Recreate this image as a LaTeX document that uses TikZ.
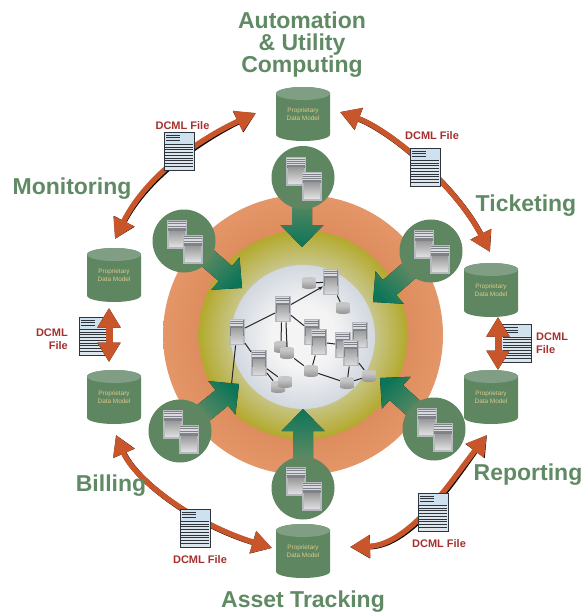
\documentclass[tikz,border=0pt]{standalone}
\usepackage{fontspec}
\setmainfont{Liberation Sans}
\usetikzlibrary{arrows.meta,calc}
\definecolor{gtitle}{HTML}{5F8A64}
\definecolor{gbody}{HTML}{5E8660}
\definecolor{gtop}{HTML}{7F9E84}
\definecolor{teal}{HTML}{0C7558}
\definecolor{redarr}{HTML}{C9562B}
\definecolor{redtxt}{HTML}{A5302E}
\definecolor{dbtxt}{HTML}{DCCB8C}
\definecolor{oa}{HTML}{DC8C5C}
\definecolor{ob}{HTML}{E59668}
\definecolor{ya}{HTML}{C8C68A}
\definecolor{yb}{HTML}{B3A92C}
\definecolor{wa}{HTML}{F4F4F4}
\definecolor{wb}{HTML}{D2D8E0}
\definecolor{docfill}{HTML}{DDE5EC}
\definecolor{dochead}{HTML}{CFE0EE}
\definecolor{docline}{HTML}{2E343C}
\definecolor{srvframe}{HTML}{B6B9C0}
\definecolor{srvhead}{HTML}{7F8289}
\definecolor{srvstripe}{HTML}{DADBDE}
\pgfdeclareradialshading{orangering}{\pgfpoint{0bp}{0bp}}{color(0bp)=(oa);color(18bp)=(oa);color(25bp)=(ob);color(50bp)=(ob)}
\pgfdeclareradialshading{olivering}{\pgfpoint{0bp}{0bp}}{color(0bp)=(ya);color(17bp)=(ya);color(25bp)=(yb);color(50bp)=(yb)}
\pgfdeclareradialshading{whitecore}{\pgfpoint{0bp}{0bp}}{color(0bp)=(wa);color(11bp)=(wa);color(25bp)=(wb);color(50bp)=(wb)}
\tikzset{
 title/.style={font=\bfseries\fontsize{23}{22}\selectfont,text=gtitle,align=center,inner sep=0pt},
 dcml/.style={font=\bfseries\fontsize{11}{12.8}\selectfont,text=redtxt,inner sep=0pt},
 halo/.style={circle,fill=gbody,minimum size=63pt,inner sep=0pt},
 db/.style={minimum width=54pt,minimum height=54pt,inner sep=0pt,align=center,
   font=\fontsize{6.4}{7.6}\selectfont,text=dbtxt,
   path picture={
     \path[fill=gbody] ($(path picture bounding box.north west)+(0,-6.5pt)$) -- ($(path picture bounding box.south west)+(0,6.5pt)$)
        arc[start angle=180,end angle=360,x radius=27pt,y radius=6.5pt]
        -- ($(path picture bounding box.north east)+(0,-6.5pt)$) arc[start angle=0,end angle=180,x radius=27pt,y radius=6.5pt] -- cycle;
     \path[fill=gtop] ($(path picture bounding box.north)+(0,-6.5pt)$) ellipse[x radius=27pt,y radius=6.5pt];
   }},
 minidb/.style={minimum width=14pt,minimum height=12pt,inner sep=0pt,
   path picture={
     \path[top color=white!70!gray,bottom color=gray!85] ($(path picture bounding box.north west)+(0,-2pt)$) -- ($(path picture bounding box.south west)+(0,2pt)$)
        arc[start angle=180,end angle=360,x radius=7pt,y radius=2pt]
        -- ($(path picture bounding box.north east)+(0,-2pt)$) arc[start angle=0,end angle=180,x radius=7pt,y radius=2pt] -- cycle;
     \path[fill=gray!45] ($(path picture bounding box.north)+(0,-2pt)$) ellipse[x radius=7pt,y radius=2pt];
   }},
 server/.style={minimum width=15.5pt,minimum height=26.5pt,inner sep=0pt,
   fill=srvframe,
   path picture={
     \coordinate (nw) at (path picture bounding box.north west);
     \coordinate (se) at (path picture bounding box.south east);
     \path[fill=srvhead] ($(nw)+(1.2pt,-1.2pt)$) rectangle ($(se)+(-1.2pt,9pt)$);
     \path[top color=gray!75,bottom color=gray!30] ($(nw)+(1.8pt,-9.5pt)$) rectangle ($(se)+(-1.8pt,2pt)$);
     \foreach \k in {2,3.6,5.2,6.8}{\draw[srvstripe,line width=.7pt] ($(nw)+(1.2pt,-\k pt)$) -- ($(nw)+(14.2pt,-\k pt)$);}
   }},
 bigserver/.style={minimum width=20pt,minimum height=29pt,inner sep=0pt,
   fill=srvframe,
   path picture={
     \coordinate (nw) at (path picture bounding box.north west);
     \coordinate (se) at (path picture bounding box.south east);
     \path[fill=srvhead] ($(nw)+(1.2pt,-1.2pt)$) rectangle ($(se)+(-1.2pt,18pt)$);
     \path[top color=gray!80,bottom color=gray!25] ($(nw)+(2.2pt,-11pt)$) rectangle ($(se)+(-2.2pt,2.5pt)$);
     \foreach \k in {2.2,4,5.8,7.6}{\draw[srvstripe,line width=.8pt] ($(nw)+(1.2pt,-\k pt)$) -- ($(nw)+(18.8pt,-\k pt)$);}
   }},
 doc/.style={minimum width=30pt,minimum height=38pt,inner sep=0pt,draw=docline,line width=.9pt,fill=docfill,
   path picture={
     \coordinate (nw) at (path picture bounding box.north west);
     \path[fill=dochead] (nw) rectangle ($(nw)+(30pt,-11.5pt)$);
     \foreach \k in {3,5.5,8}{\draw[docline,line width=.75pt] ($(nw)+(2pt,-\k pt)$) -- ($(nw)+(16pt,-\k pt)$);}
     \foreach \k in {12.5,15.2,17.9,20.6,23.3,26,28.7,31.4,34.1}{\draw[docline,line width=.85pt] ($(nw)+(1pt,-\k pt)$) -- ($(nw)+(29pt,-\k pt)$);}
   }},
 wire/.style={line width=1pt,black!85},
 flow/.style={line width=5.4pt,redarr,{Triangle[length=20pt,width=22pt]}-{Triangle[length=20pt,width=22pt]}},
 flowsh/.style={line width=5.4pt,black,{Triangle[length=20pt,width=22pt]}-{Triangle[length=20pt,width=22pt]},shift={(1.3,1.3)}},
 vflow/.style={line width=7pt,redarr,{Triangle[length=19.5pt,width=22pt]}-{Triangle[length=19.5pt,width=22pt]}},
 vflowsh/.style={line width=7pt,black,{Triangle[length=19.5pt,width=22pt]}-{Triangle[length=19.5pt,width=22pt]},shift={(1,1)}},
 push/.style={top color=gtitle,bottom color=teal},
 pushsh/.style={fill=black,shift={(1.1,1.1)}},
}
% #1 style, #2 tip coordinate, #3 direction from tip to tail (image degrees)
\newcommand{\pusharrow}[3]{%
  \path[#1] (#2) -- ($(#2)+(#3:22)+(#3+90:21.5)$) -- ($(#2)+(#3:22)+(#3+90:10)$)
    -- ($(#2)+(#3:50)+(#3+90:10)$) -- ($(#2)+(#3:50)+(#3-90:10)$)
    -- ($(#2)+(#3:22)+(#3-90:10)$) -- ($(#2)+(#3:22)+(#3-90:21.5)$) -- cycle;}
\begin{document}
\begin{tikzpicture}[x=1pt,y=-1pt]
\useasboundingbox (0,0) rectangle (584,613);
% rings
\node[circle,minimum size=280pt,inner sep=0pt,shading=orangering] (ring1) at (303,335) {};
\node[circle,minimum size=209pt,inner sep=0pt,shading=olivering] (ring2) at (303,335) {};
\node[circle,minimum size=144pt,inner sep=0pt,shading=whitecore] (core) at (303,337) {};
% central network
\node[minidb] (d1) at (309,283) {};
\node[server] (s1) at (331,282) {};
\node[minidb] (d2) at (343,308) {};
\node[server] (s3) at (237,332) {};
\node[server] (s2) at (283,309) {};
\node[server] (s4) at (259,363) {};
\node[minidb] (d3) at (281,347) {};
\node[minidb] (d4) at (287,353) {};
\node[server] (s5) at (312,332) {};
\node[server] (s6) at (319,342) {};
\node[server] (s8) at (360,335) {};
\node[server] (s7) at (343,345) {};
\node[server] (s9) at (351,353) {};
\node[minidb] (d5) at (311,371) {};
\node[minidb] (d6) at (347,383) {};
\node[minidb] (d7) at (369,376) {};
\node[minidb] (d9) at (278,387) {};
\node[minidb] (d8) at (285,382) {};
\node[minidb] (d10) at (231,389) {};
\draw[wire,-{Stealth[length=5pt]}] (s2) -- (s1);
\draw[wire] (d1) -- (s1);
\draw[wire] (s1) -- (d2);
\draw[wire] (s2) -- (s3);
\draw[wire] (s2.south) ++(-1.5pt,0) -- (d3.north);
\draw[wire] (s2.south) ++(3pt,0) -- (d4.north);
\draw[wire] (s2) -- (s5);
\draw[wire] (s3) -- (s4);
\draw[wire] (s3) -- (d10);
\draw[wire] (s4) -- (d8);
\draw[wire] (s4) -- (d9);
\draw[wire] (d4) -- (d5);
\draw[wire] (s6) -- (d5);
\draw[wire] (s6) -- (s7);
\draw[wire] (d5) -- (d6);
\draw[wire] (s9) -- (d6);
\draw[wire] (s9) -- (d7);
\draw[wire] (d6) -- (d7);
% green push arrows
\coordinate (p1) at (302,247);
\coordinate (p2) at (242,288);
\coordinate (p3) at (373,302);
\coordinate (p4) at (239,384);
\coordinate (p5) at (380,378);
\coordinate (p6) at (303,409);
\pusharrow{pushsh}{p1}{-90}
\pusharrow{pushsh}{p2}{221}
\pusharrow{pushsh}{p3}{-41}
\pusharrow{pushsh}{p4}{141}
\pusharrow{pushsh}{p5}{42}
\pusharrow{pushsh}{p6}{90}
\pusharrow{push}{p1}{-90}
\pusharrow{push,shading angle=45}{p2}{221}
\pusharrow{push,shading angle=-45}{p3}{-41}
\pusharrow{push,shading angle=135}{p4}{141}
\pusharrow{push,shading angle=-135}{p5}{42}
\pusharrow{push,shading angle=180}{p6}{90}
% halos with servers
\node[halo] (h1) at (303,177.5) {};
\node[halo] (h2) at (184,241) {};
\node[halo] (h3) at (431,251) {};
\node[halo] (h4) at (180,431) {};
\node[halo] (h5) at (434,429) {};
\node[halo] (h6) at (303,488) {};
\foreach \n in {h1,h2,h3,h4,h5,h6}{
  \node[bigserver] (\n a) at ($(\n)+(-7,-6.5)$) {};
  \node[bigserver] (\n b) at ($(\n)+(9,8.5)$) {};
}
% databases
\node[db] (dbtop) at (303,114) {Proprietary\\Data Model};
\node[db] (dbml) at (114,275) {Proprietary\\Data Model};
\node[db] (dbbl) at (114,397) {Proprietary\\Data Model};
\node[db] (dbmr) at (491,290) {Proprietary\\Data Model};
\node[db] (dbbr) at (491,397) {Proprietary\\Data Model};
\node[db] (dbbot) at (303,551) {Proprietary\\Data Model};
% named curve ends
\coordinate (e1) at (115,239);
\coordinate (e2) at (256,113);
\coordinate (e3) at (340,112);
\coordinate (e4) at (490,252);
\coordinate (e5) at (350,547);
\coordinate (e6) at (487,435);
\coordinate (e7) at (116,435);
\coordinate (e8) at (272,548);
\coordinate (e9) at (109,308);
\coordinate (e10) at (109,362);
\coordinate (e11) at (498,317);
\coordinate (e12) at (498,370);
% doc icons under the vertical arrows
\node[doc] (docl) at (94,336) {};
\node[doc] (docr) at (516.5,343.5) {};
% red arrows
\foreach \s in {flowsh,flow}{
 \draw[\s] (e1) .. controls (148,172) and (206,136) .. (e2);
 \draw[\s] (e3) .. controls (390,130) and (455,185) .. (e4);
 \draw[\s] (e5) .. controls (410,545) and (452,480) .. (e6);
 \draw[\s] (e7) .. controls (135,480) and (194,524) .. (e8);
}
\foreach \s in {vflowsh,vflow}{
 \draw[\s] (e9) -- (e10);
 \draw[\s] (e11) -- (e12);
}
% doc icons above the curves
\node[doc] (doc1) at (179,151) {};
\node[doc] (doc2) at (425,167) {};
\node[doc] (doc3) at (433,512) {};
\node[doc] (doc4) at (195,528) {};
% DCML labels
\node[dcml] (l1) at (182.5,126) {DCML File};
\node[dcml] (l2) at (432,136) {DCML File};
\node[dcml] (l3) at (200,560) {DCML File};
\node[dcml] (l4) at (439,544) {DCML File};
\node[dcml,align=right,anchor=east] (l5) at (68,339) {DCML\\File};
\node[dcml,align=left,anchor=west] (l6) at (536,343.5) {DCML\\File};
% titles
\node[title] (t1) at (302,45) {Automation\\\& Utility\\Computing};
\node[title] (t2) at (72,189) {Monitoring};
\node[title] (t3) at (526,206) {Ticketing};
\node[title] (t4) at (528,475) {Reporting};
\node[title] (t5) at (111,486) {Billing};
\node[title] (t6) at (303,602) {Asset Tracking};
\end{tikzpicture}
\end{document}
